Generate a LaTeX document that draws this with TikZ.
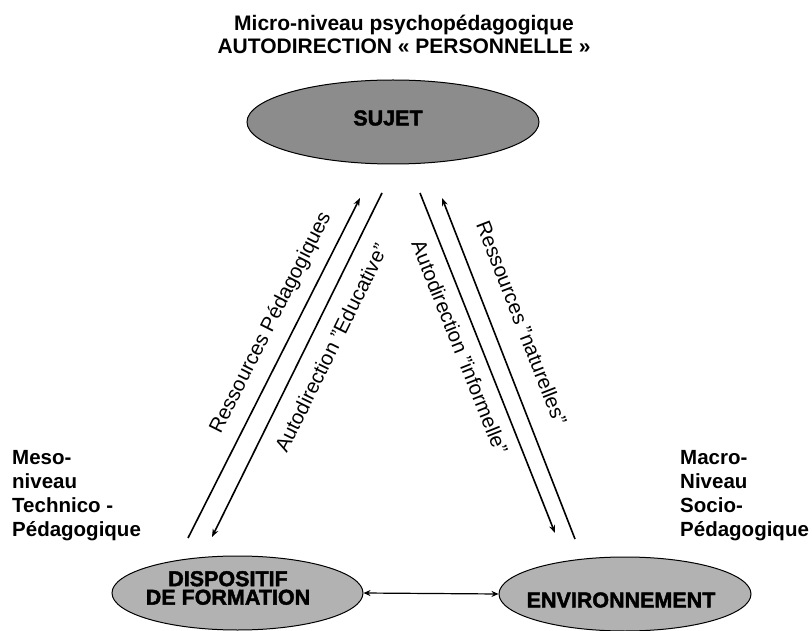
\documentclass[tikz,border=0pt]{standalone}
\usepackage{fontspec}
\setmainfont{Liberation Sans}
\newfontfamily\heavyfont{Liberation Sans}[UprightFont={* Bold},FakeBold=2]
\usetikzlibrary{shapes.geometric,arrows.meta}

\begin{document}
\begin{tikzpicture}[x=1pt,y=-1pt,
  level/.style={font=\fontsize{20.5}{24}\selectfont\bfseries, align=left, inner sep=0pt, anchor=north west},
  heading/.style={font=\fontsize{21}{23}\selectfont\bfseries, align=center, inner sep=0pt, anchor=north},
  pole/.style={ellipse, draw=black, line width=1pt, inner sep=0pt},
  poletext/.style={font=\fontsize{21.5}{18.5}\selectfont\heavyfont, align=center, inner sep=0pt},
  flow/.style={line width=1.6pt, -{Stealth[length=8pt,width=6pt]}},
  diag/.style={font=\fontsize{20.5}{22}\selectfont, inner sep=0pt},
  link/.style={line width=1.2pt, {Stealth[length=7pt,width=6pt]}-{Stealth[length=7pt,width=6pt]}}
]
\useasboundingbox (0,0) rectangle (812,631);

% heading above the subject
\node[heading] (titre) at (404,15) {Micro-niveau psychopédagogique\\AUTODIRECTION « PERSONNELLE »};

% the three poles
\node[pole, fill=black!45, minimum width=292pt, minimum height=84pt] (sujet) at (393,122) {};
\node[pole, fill=black!30, minimum width=251pt, minimum height=74pt] (disp) at (237.5,593) {};
\node[pole, fill=black!30, minimum width=252pt, minimum height=74pt] (env) at (625,594) {};

\node[poletext] (tsujet) at (388,118) {SUJET};
\node[poletext] (tdisp) at (228,588) {DISPOSITIF\\DE FORMATION};
\node[poletext] (tenv) at (621,600) {ENVIRONNEMENT};

% level captions
\node[level] (meso) at (12,450) {Meso-\\niveau\\Technico -\\Pédagogique};
\node[level] (macro) at (680,450) {Macro-\\Niveau\\Socio-\\Pédagogique};

% ends of the four flows
\coordinate (rpA) at (188,538);
\coordinate (rpB) at (360,198);
\coordinate (aeA) at (382,193);
\coordinate (aeB) at (212,537);
\coordinate (aiA) at (420,193);
\coordinate (aiB) at (555,533);
\coordinate (rnA) at (575,539);
\coordinate (rnB) at (442,198);

\draw[flow] (rpA) -- (rpB);
\draw[flow] (aeA) -- (aeB);
\draw[flow] (aiA) -- (aiB);
\draw[flow] (rnA) -- (rnB);

\node[diag, rotate=63.2] (lrp) at (271,323) {Ressources Pédagogiques};
\node[diag, rotate=63.7] (lae) at (331,348) {Autodirection "Educative"};
\node[diag, rotate=-68.3] (lai) at (460,347) {Autodirection "informelle"};
\node[diag, rotate=-68.7] (lrn) at (522,323) {Ressources "naturelles"};

% link between the two lower poles
\draw[link] (disp.east) -- (env.west);
\end{tikzpicture}
\end{document}
